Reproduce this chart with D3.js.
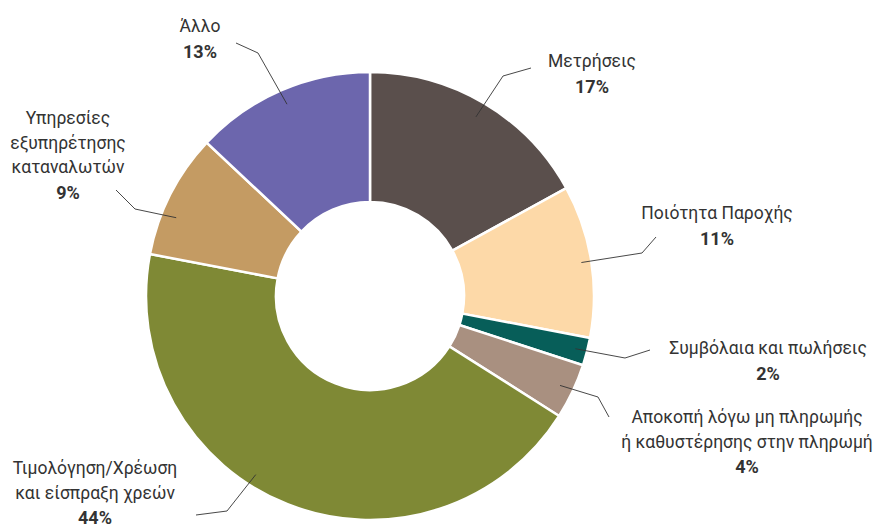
<!DOCTYPE html>
<html>
<head>
<meta charset="utf-8">
<script src="https://cdn.jsdelivr.net/npm/d3@7/dist/d3.min.js"></script>
<style>
  html, body { margin: 0; padding: 0; background: #ffffff; }
  svg { display: block; }
  text { font-family: Roboto, "Noto Sans", sans-serif; fill: #333333; }
</style>
</head>
<body>
<svg id="chart" width="877" height="527"></svg>
<script>
// ---- data ----
const categories = [
  "Μετρήσεις",
  "Ποιότητα Παροχής",
  "Συμβόλαια και πωλήσεις",
  "Αποκοπή λόγω μη πληρωμής ή καθυστέρησης στην πληρωμή",
  "Τιμολόγηση/Χρέωση και είσπραξη χρεών",
  "Υπηρεσίες εξυπηρέτησης καταναλωτών",
  "Άλλο"
];
const values = [17, 11, 2, 4, 44, 9, 13];
const labelLines = [
  ["Μετρήσεις"],
  ["Ποιότητα Παροχής"],
  ["Συμβόλαια και πωλήσεις"],
  ["Αποκοπή λόγω μη πληρωμής", "ή καθυστέρησης στην πληρωμή"],
  ["Τιμολόγηση/Χρέωση", "και είσπραξη χρεών"],
  ["Υπηρεσίες", "εξυπηρέτησης", "καταναλωτών"],
  ["Άλλο"]
];

// ---- styles / layout ----
const colors = ["#5a4f4c", "#fdd9a8", "#075e59", "#a99080", "#7f8935", "#c49b63", "#6c66ad"];
const cx = 370, cy = 296, outerR = 224, innerR = 94;
// leader: anchor angle offset (deg from mid-angle), anchor radius, elbow, end (absolute px); text centre x, first baseline
const labelLayout = [
  { da: 0,   ar: 208, elbow: [503, 76],  end: [531, 68],  tx: 592, ty: 67 },
  { da: 0,   ar: 214, elbow: [642, 253], end: [656, 237], tx: 717, ty: 219 },
  { da: 0,   ar: 212, elbow: [625, 358], end: [650, 350], tx: 768, ty: 354 },
  { da: 0,   ar: 210, elbow: [598, 397], end: [609, 417], tx: 747, ty: 423 },
  { da: 11,  ar: 212, elbow: [227, 511], end: [196, 515], tx: 95,  ty: 474 },
  { da: -5,  ar: 209, elbow: [135, 209], end: [116, 190], tx: 68,  ty: 124 },
  { da: 0,   ar: 209, elbow: [258, 53],  end: [236, 43],  tx: 200, ty: 32 }
];
const lineH = 24.5;

const svg = d3.select("#chart");
const g = svg.append("g").attr("transform", `translate(${cx},${cy})`);

const pie = d3.pie().sort(null).value(d => d)(values);
const arc = d3.arc().innerRadius(innerR).outerRadius(outerR);

g.selectAll("path.slice")
  .data(pie)
  .join("path")
  .attr("class", "slice")
  .attr("d", arc)
  .attr("fill", (d, i) => colors[i])
  .attr("stroke", "#ffffff")
  .attr("stroke-width", 2.5)
  .attr("stroke-linejoin", "miter");

// leader lines
svg.selectAll("polyline.leader")
  .data(pie)
  .join("polyline")
  .attr("class", "leader")
  .attr("fill", "none")
  .attr("stroke", "#333333")
  .attr("stroke-width", 0.9)
  .attr("points", (d, i) => {
    const L = labelLayout[i];
    const a = (d.startAngle + d.endAngle) / 2 + L.da * Math.PI / 180;
    const sx = cx + L.ar * Math.sin(a), sy = cy - L.ar * Math.cos(a);
    return [[sx, sy], L.elbow, L.end].map(p => p.join(",")).join(" ");
  });

// labels
const labels = svg.selectAll("g.label")
  .data(pie)
  .join("g")
  .attr("class", "label");

labels.each(function (d, i) {
  const L = labelLayout[i];
  const t = d3.select(this).append("text")
    .attr("text-anchor", "middle")
    .attr("font-size", 17.5);
  labelLines[i].forEach((ln, k) => {
    t.append("tspan").attr("x", L.tx).attr("y", L.ty + k * lineH).text(ln);
  });
  t.append("tspan")
    .attr("x", L.tx)
    .attr("y", L.ty + labelLines[i].length * lineH + 1)
    .attr("font-weight", "bold")
    .attr("font-size", 18)
    .text(d.data + "%");
});
</script>
</body>
</html>
